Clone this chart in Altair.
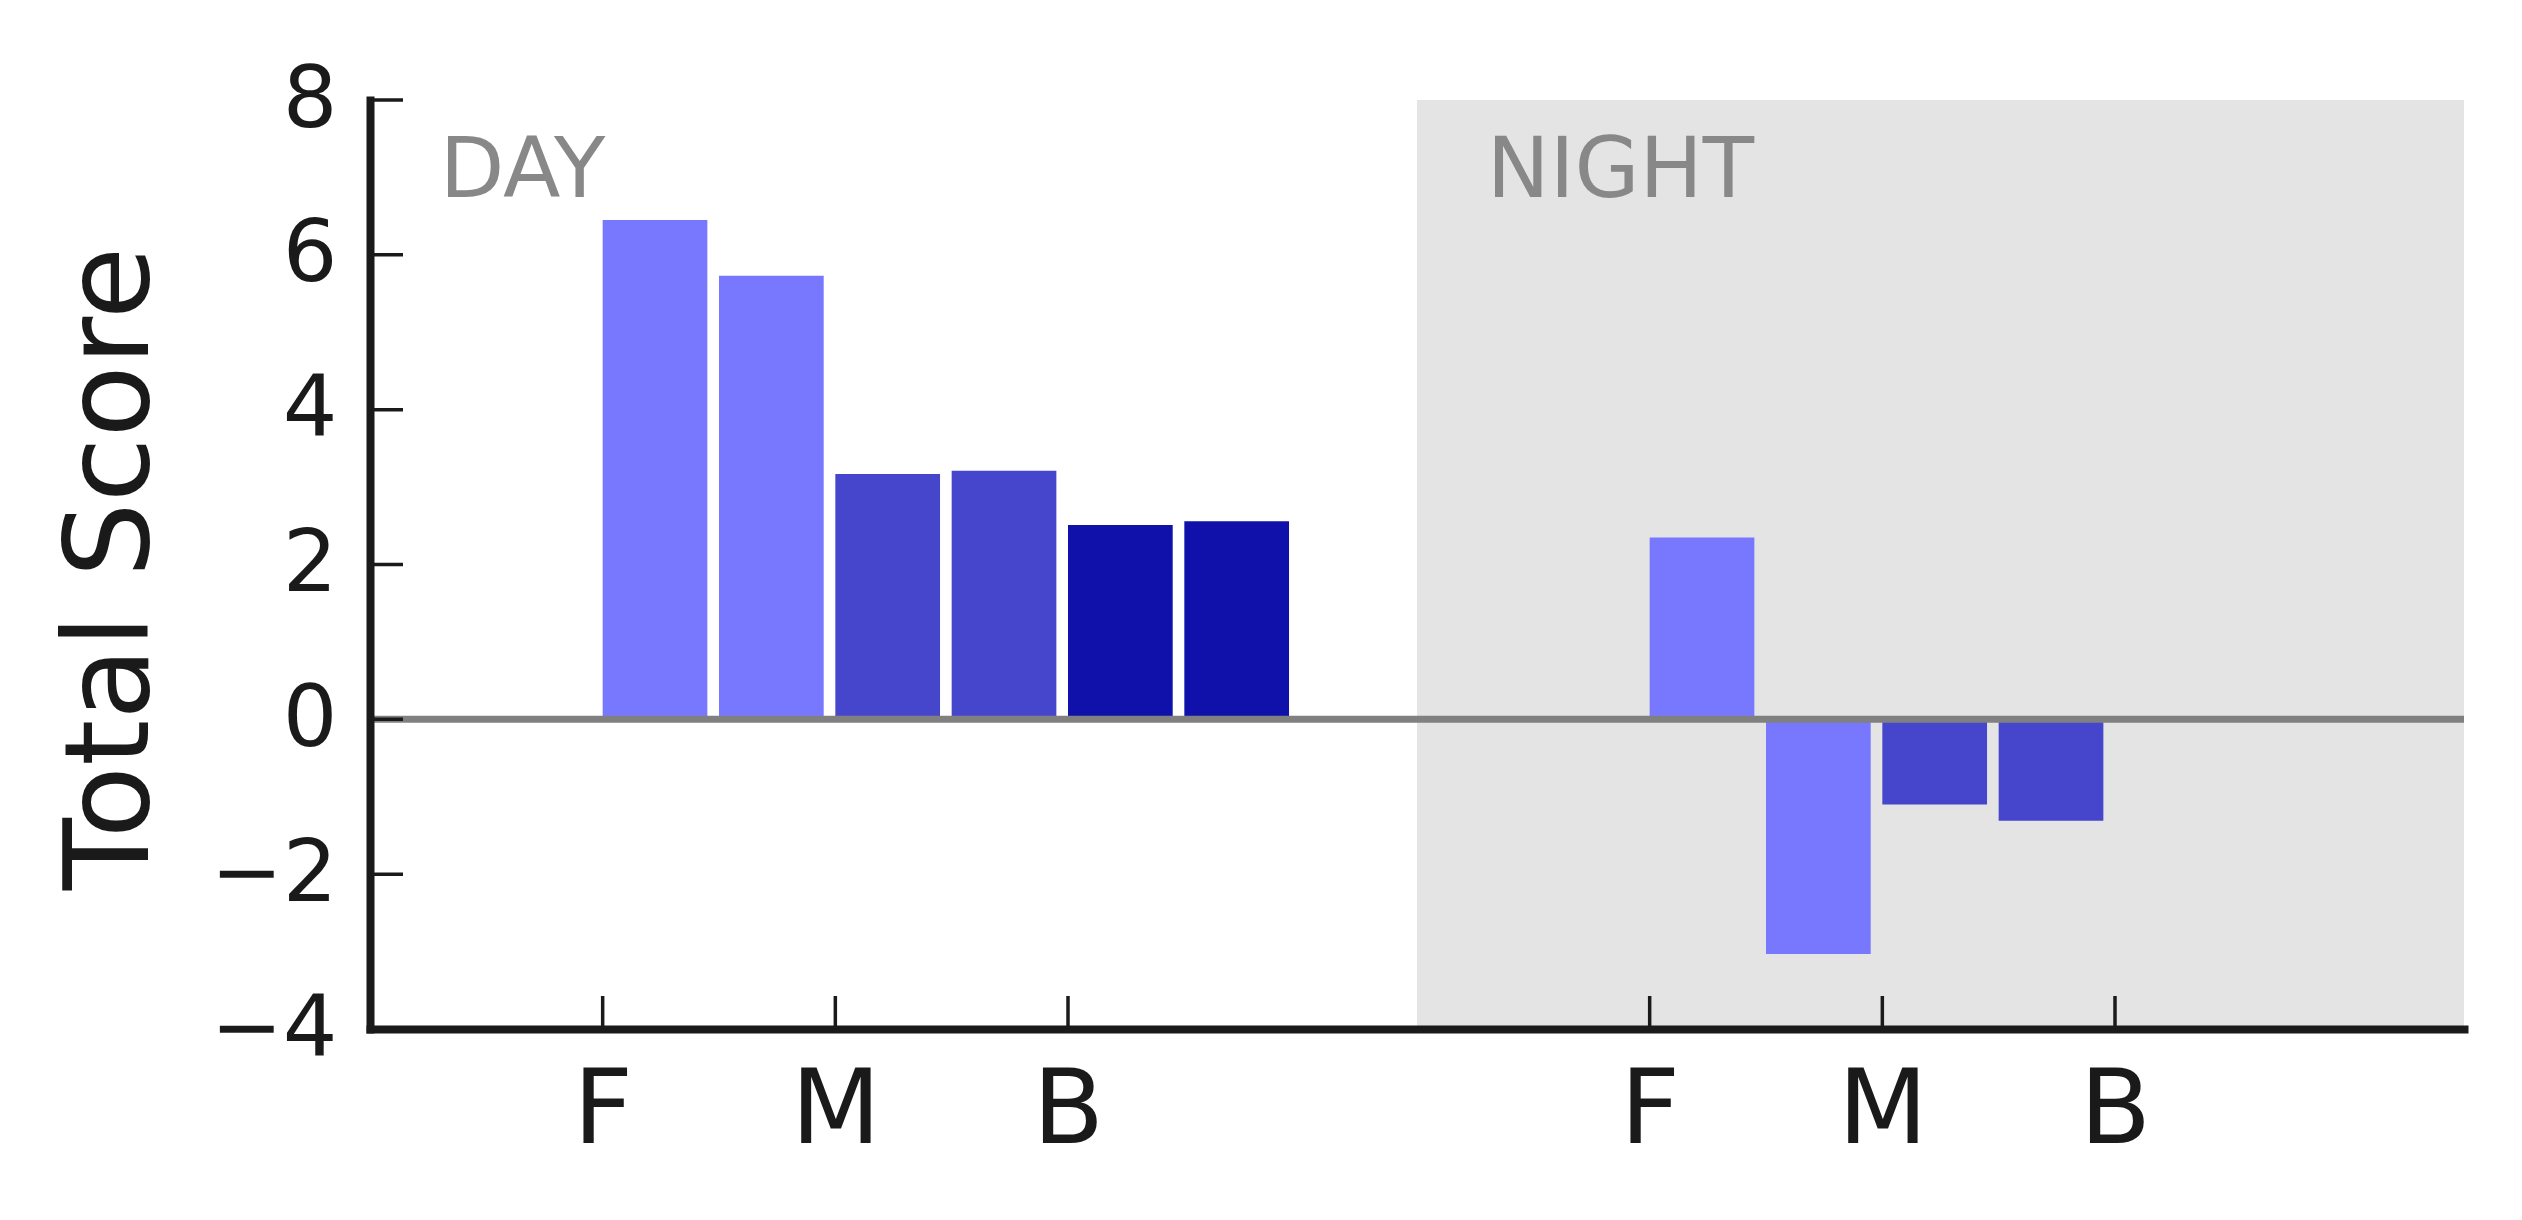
import altair as alt
import pandas as pd

# ---- data ----
categories = ["F", "M", "B"]
periods = ["DAY", "NIGHT"]
day_first = [6.45, 3.17, 2.51]
day_second = [5.73, 3.21, 2.56]
night_first = [2.35, -1.10, None]
night_second = [-3.03, -1.31, None]
y_ticks = [-4, -2, 0, 2, 4, 6, 8]
colors = ["#7878ff", "#4646cc", "#1010aa"]

# ---- layout helpers ----
period_offset = {"DAY": 0.0, "NIGHT": 4.5}
x_max = 9.0
bar_w = 0.45
W, H = 2094, 929

rows = []
tick_pos = []
tick_lab = []
for p, firsts, seconds in [("DAY", day_first, day_second), ("NIGHT", night_first, night_second)]:
    for i, c in enumerate(categories):
        tick = period_offset[p] + 1 + i
        tick_pos.append(tick)
        tick_lab.append(c)
        for j, v in enumerate([firsts[i], seconds[i]]):
            if v is None:
                continue
            x0 = tick + 0.5 * j
            rows.append(dict(period=p, cat=c, x=x0, x2=x0 + bar_w, value=v, zero=0))
bars_df = pd.DataFrame(rows)

shade_df = pd.DataFrame([dict(x=period_offset["NIGHT"], x2=x_max, y=min(y_ticks), y2=max(y_ticks))])
label_df = pd.DataFrame([dict(x=period_offset[p] + 0.3, y=6.75, text=p) for p in periods])
ytick_df = pd.DataFrame(dict(y=y_ticks))
xtick_df = pd.DataFrame(dict(x=tick_pos))

xs = alt.Scale(domain=[0, x_max], nice=False, zero=False)
ys = alt.Scale(domain=[min(y_ticks), max(y_ticks)], nice=False, zero=False)

label_expr = "datum.value < 4.5 ? ['F','M','B'][datum.value - 1] : ['F','M','B'][datum.value - 5.5]"

x_axis = alt.Axis(
    values=tick_pos, labelExpr=label_expr, title=None, grid=False,
    tickSize=0, labelPadding=31, labelFontSize=104, labelFont="DejaVu Sans",
    labelColor="#1a1a1a", domainColor="#1a1a1a", domainWidth=8, domainCap="square",
    labelBaseline="top", zindex=1,
)
y_axis = alt.Axis(
    values=y_ticks, format="d", title="Total Score", grid=False,
    tickSize=0, labelPadding=33, labelFontSize=86, labelFont="DejaVu Sans",
    labelColor="#1a1a1a", domainColor="#1a1a1a", domainWidth=8, domainCap="square",
    titleFontSize=118, titleFont="DejaVu Sans", titleFontWeight="normal",
    titleColor="#1a1a1a", titleAngle=270, titleX=-223, titleY=468,
    titleAlign="center", titleBaseline="alphabetic", zindex=1,
)


def X(field):
    return alt.X(field, scale=xs, axis=x_axis)


def Y(field):
    return alt.Y(field, scale=ys, axis=y_axis)


shade = alt.Chart(shade_df).mark_rect(color="#e4e4e4").encode(
    x=X("x:Q"), x2="x2:Q", y=Y("y:Q"), y2="y2:Q",
)

bars = alt.Chart(bars_df).mark_bar().encode(
    x=X("x:Q"), x2="x2:Q", y=Y("value:Q"), y2="zero:Q",
    color=alt.Color("cat:N", scale=alt.Scale(domain=categories, range=colors), legend=None),
)

zero_line = alt.Chart(pd.DataFrame(dict(y=[0]))).mark_rule(color="#808080", strokeWidth=7).encode(
    y=Y("y:Q"),
)

texts = alt.Chart(label_df).mark_text(
    align="left", baseline="alphabetic", fontSize=84, font="DejaVu Sans", color="#888888"
).encode(
    x=X("x:Q"), y=Y("y:Q"), text="text:N",
)

yticks = alt.Chart(ytick_df).mark_rule(color="#1a1a1a", strokeWidth=3.5).encode(
    y=Y("y:Q"), x=alt.value(0), x2=alt.value(33),
)

xticks = alt.Chart(xtick_df).mark_rule(color="#1a1a1a", strokeWidth=3.5).encode(
    x=X("x:Q"), y=alt.value(H), y2=alt.value(H - 33),
)

chart = alt.layer(shade, bars, zero_line, texts, yticks, xticks).properties(
    width=W, height=H,
    autosize=alt.AutoSizeParams(type="none"),
    padding={"left": 362, "top": 92, "right": 40, "bottom": 180},
    background="white",
).configure_view(stroke=None)

chart.save("out.html", embed_options={"renderer": "svg", "actions": False})
